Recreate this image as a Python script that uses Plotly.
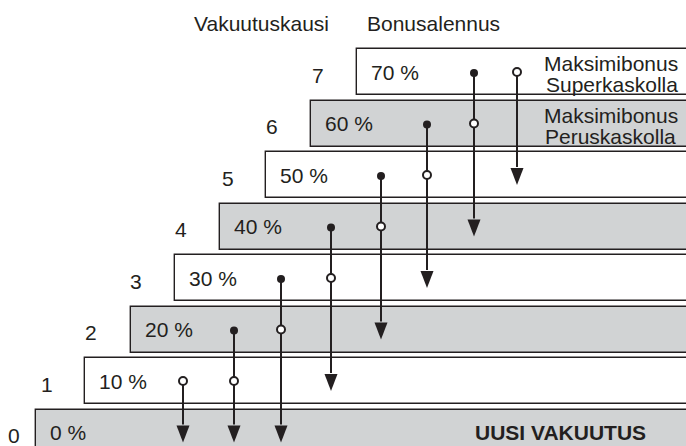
import plotly.graph_objects as go

# ---- data ----
levels = [0, 1, 2, 3, 4, 5, 6, 7]
discounts = ["0 %", "10 %", "20 %", "30 %", "40 %", "50 %", "60 %", "70 %"]
level_labels = ["0", "1", "2", "3", "4", "5", "6", "7"]

# claim paths (one column each)
path_start = [1, 2, 3, 4, 5, 6, 7, 7]
path_start_filled = [False, True, True, True, True, True, True, False]
path_via = [None, 1, 2, 3, 4, 5, 6, None]
path_end = [0, 0, 0, 1, 2, 3, 4, 5]

# ---- layout positions (pixels on x axis) ----
W, H = 686, 446
bar_left = [36, 85, 131, 175, 220, 266, 311, 357]
num_x = [14, 47, 91, 136, 181, 228, 272, 318]
path_x = [183, 234, 281, 331, 381, 427, 474, 517]

PX = 51.5                      # pixels per level
Y_TOP = 7 + 72 / PX
Y_BOT = 7 - (H - 72) / PX
INK = "#231f20"
GRAY = "#d1d3d4"
FONT = "Liberation Sans, Arial, sans-serif"
FS = 21

fig = go.Figure()

fig.add_trace(go.Bar(
    orientation="h", y=levels, base=bar_left,
    x=[W + 20 - l for l in bar_left], width=46 / PX,
    marker=dict(color=[GRAY if lv % 2 == 0 else "white" for lv in levels],
                line=dict(color=INK, width=1.4)),
    hoverinfo="skip", showlegend=False,
))

ann = []
for lv, txt, l, nx in zip(levels, discounts, bar_left, num_x):
    ann.append(dict(x=l + 12, y=lv, text=txt, xanchor="left", yanchor="middle",
                    showarrow=False, font=dict(size=FS, color=INK, family=FONT)))
    ann.append(dict(x=nx, y=lv - 3 / PX, text=level_labels[lv], xanchor="center",
                    yanchor="middle", showarrow=False,
                    font=dict(size=FS, color=INK, family=FONT)))

tip_off = 10 / PX
head_h = 17 / PX
head_w = 6.5
shapes = []
for x, s, sf, v, e in zip(path_x, path_start, path_start_filled, path_via, path_end):
    tip = e - tip_off
    base_y = tip + head_h
    fig.add_trace(go.Scatter(x=[x, x], y=[s, base_y + 1 / PX], mode="lines",
                             line=dict(color=INK, width=2), hoverinfo="skip",
                             showlegend=False))
    shapes.append(dict(type="path", xref="x", yref="y",
                       path=f"M{x - head_w},{base_y} L{x + head_w},{base_y} L{x},{tip} Z",
                       fillcolor=INK, line=dict(width=0)))

filled_x = [x for x, f in zip(path_x, path_start_filled) if f]
filled_y = [s for s, f in zip(path_start, path_start_filled) if f]
open_x = [x for x, f in zip(path_x, path_start_filled) if not f] + \
         [x for x, v in zip(path_x, path_via) if v is not None]
open_y = [s for s, f in zip(path_start, path_start_filled) if not f] + \
         [v for v in path_via if v is not None]

fig.add_trace(go.Scatter(x=filled_x, y=[y - 1 / PX for y in filled_y], mode="markers",
                         marker=dict(color=INK, size=8, line=dict(width=0)),
                         hoverinfo="skip", showlegend=False))
fig.add_trace(go.Scatter(x=open_x, y=open_y, mode="markers",
                         marker=dict(color="white", size=8, line=dict(color=INK, width=2)),
                         hoverinfo="skip", showlegend=False))

def py(p):
    return 7 - (p - 72) / PX

ann += [
    dict(x=261, y=py(23), text="Vakuutuskausi", showarrow=False,
         font=dict(size=FS, color=INK, family=FONT)),
    dict(x=433, y=py(23), text="Bonusalennus", showarrow=False,
         font=dict(size=FS, color=INK, family=FONT)),
    dict(x=680, y=py(63), text="Maksimibonus", xanchor="right", showarrow=False,
         font=dict(size=FS, color=INK, family=FONT)),
    dict(x=680, y=py(84), text="Superkaskolla", xanchor="right", showarrow=False,
         font=dict(size=FS, color=INK, family=FONT)),
    dict(x=680, y=py(115), text="Maksimibonus", xanchor="right", showarrow=False,
         font=dict(size=FS, color=INK, family=FONT)),
    dict(x=678, y=py(136), text="Peruskaskolla", xanchor="right", showarrow=False,
         font=dict(size=FS, color=INK, family=FONT)),
    dict(x=648, y=py(432), text="<b>UUSI VAKUUTUS</b>", xanchor="right", showarrow=False,
         font=dict(size=FS, color=INK, family=FONT)),
]

fig.update_layout(
    width=W, height=H, margin=dict(l=0, r=0, t=0, b=0),
    paper_bgcolor="white", plot_bgcolor="white",
    xaxis=dict(range=[0, W], visible=False, fixedrange=True),
    yaxis=dict(range=[Y_BOT, Y_TOP], visible=False, fixedrange=True),
    annotations=ann, shapes=shapes, bargap=0, showlegend=False,
)

fig.write_html("out.html", config={"displayModeBar": False},
               post_script="document.body.style.margin='0';"
                           "document.body.style.overflow='hidden';")
